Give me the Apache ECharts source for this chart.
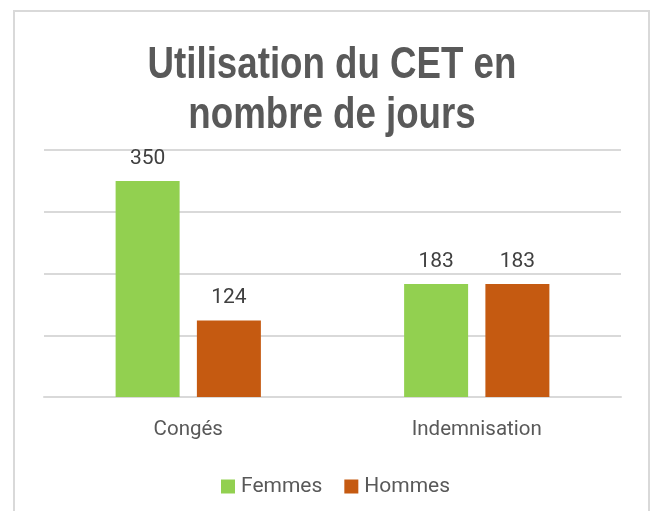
<!DOCTYPE html>
<html>
<head>
<meta charset="utf-8">
<script src="https://cdn.jsdelivr.net/npm/echarts@6/dist/echarts.min.js"></script>
<style>
  html, body { margin: 0; padding: 0; background: #fff; }
  #chart_cet { width: 652px; height: 511px; }
</style>
</head>
<body>
<div id="chart_cet"></div>
<script>
var categories = ['Congés', 'Indemnisation'];
var femmes = [350, 183];
var hommes = [124, 183];
var yTicks = [0, 100, 200, 300, 400];
var chartTitle = 'Utilisation du CET en\nnombre de jours';

var chartDom = document.getElementById('chart_cet');
var myChart = echarts.init(chartDom);

var labelFont = 'Roboto, "Liberation Sans", sans-serif';

myChart.setOption({
	animation: false,
	graphic: [
		{
			type: 'rect',
			shape: { x: 14, y: 11, width: 635, height: 520 },
			style: { fill: 'none', stroke: '#d9d9d9', lineWidth: 2 },
			silent: true
		},
		{
			// title, squeezed horizontally like the narrow original font
			type: 'text',
			x: 332,
			y: 41,
			scaleX: 0.815,
			silent: true,
			style: {
				text: chartTitle,
				x: 0,
				y: 0,
				align: 'center',
				verticalAlign: 'top',
				fontFamily: '"Liberation Sans", Arial, sans-serif',
				fontWeight: 'bold',
				fontSize: 45,
				lineHeight: 50,
				fill: '#595959'
			}
		}
	],
	legend: {
		left: 221,
		top: 476,
		padding: 0,
		itemWidth: 14,
		itemHeight: 14,
		itemGap: 22,
		icon: 'rect',
		textStyle: {
			fontFamily: labelFont,
			fontSize: 21,
			color: '#595959',
			padding: [0, 0, 0, 1]
		},
		data: ['Femmes', 'Hommes']
	},
	grid: {
		left: 44,
		right: 31,
		top: 150,
		bottom: 114
	},
	xAxis: {
		type: 'category',
		data: categories,
		axisLine: { lineStyle: { color: '#d9d9d9', width: 2 } },
		axisTick: { show: false },
		axisLabel: {
			margin: 22,
			fontFamily: labelFont,
			fontSize: 20.5,
			color: '#595959'
		}
	},
	yAxis: {
		type: 'value',
		min: yTicks[0],
		max: yTicks[yTicks.length - 1],
		interval: 100,
		axisLabel: { show: false },
		axisLine: { show: false },
		axisTick: { show: false },
		splitLine: { lineStyle: { color: '#d9d9d9', width: 2 } }
	},
	series: [
		{
			name: 'Femmes',
			type: 'bar',
			data: femmes,
			barWidth: 64,
			barGap: '27%',
			itemStyle: { color: '#92d050' },
			label: {
				show: true,
				position: 'top',
				distance: 12,
				fontFamily: labelFont,
				fontSize: 21,
				color: '#404040'
			}
		},
		{
			name: 'Hommes',
			type: 'bar',
			data: hommes,
			barWidth: 64,
			barGap: '27%',
			itemStyle: { color: '#c55a11' },
			label: {
				show: true,
				position: 'top',
				distance: 12,
				fontFamily: labelFont,
				fontSize: 21,
				color: '#404040'
			}
		}
	]
});

window.addEventListener('resize', function () {
	myChart.resize();
});
</script>
</body>
</html>
